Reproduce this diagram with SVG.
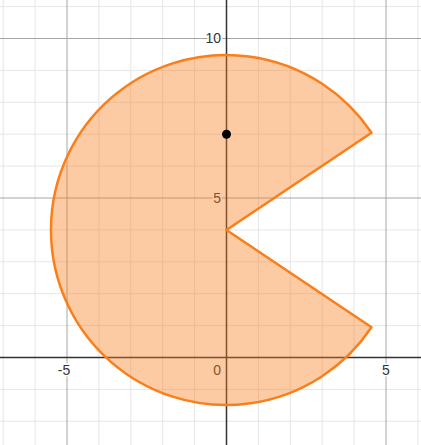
<svg xmlns="http://www.w3.org/2000/svg" width="421" height="445" viewBox="0 0 421 445">
<style>
.minor{stroke:#e6e6e6;stroke-width:1}
.major{stroke:#a6a6a6;stroke-width:1}
.axis{stroke:#333;stroke-width:1.5}
.lbl{font-family:"Liberation Sans",Arial,sans-serif;font-size:14px;fill:#333;stroke:#fff;stroke-width:3;paint-order:stroke;stroke-linejoin:round}
.shape{fill:#fa7e19;fill-opacity:0.4;stroke:#fa7e19;stroke-width:2.5;stroke-linejoin:round}
</style>
<rect width="421" height="445" fill="#fff"/>
<g id="grid-minor" class="minor">
<line x1="3.2" y1="0" x2="3.2" y2="445"/>
<line x1="35.1" y1="0" x2="35.1" y2="445"/>
<line x1="98.9" y1="0" x2="98.9" y2="445"/>
<line x1="130.8" y1="0" x2="130.8" y2="445"/>
<line x1="162.7" y1="0" x2="162.7" y2="445"/>
<line x1="194.6" y1="0" x2="194.6" y2="445"/>
<line x1="258.4" y1="0" x2="258.4" y2="445"/>
<line x1="290.3" y1="0" x2="290.3" y2="445"/>
<line x1="322.2" y1="0" x2="322.2" y2="445"/>
<line x1="354.1" y1="0" x2="354.1" y2="445"/>
<line x1="417.9" y1="0" x2="417.9" y2="445"/>
<line x1="0" y1="6.6" x2="421" y2="6.6"/>
<line x1="0" y1="70.4" x2="421" y2="70.4"/>
<line x1="0" y1="102.3" x2="421" y2="102.3"/>
<line x1="0" y1="134.2" x2="421" y2="134.2"/>
<line x1="0" y1="166.1" x2="421" y2="166.1"/>
<line x1="0" y1="229.9" x2="421" y2="229.9"/>
<line x1="0" y1="261.8" x2="421" y2="261.8"/>
<line x1="0" y1="293.7" x2="421" y2="293.7"/>
<line x1="0" y1="325.6" x2="421" y2="325.6"/>
<line x1="0" y1="389.4" x2="421" y2="389.4"/>
<line x1="0" y1="421.3" x2="421" y2="421.3"/>
</g>
<g id="grid-major" class="major">
<line x1="67" y1="0" x2="67" y2="445"/>
<line x1="386" y1="0" x2="386" y2="445"/>
<line x1="0" y1="38.5" x2="421" y2="38.5"/>
<line x1="0" y1="198" x2="421" y2="198"/>
</g>
<g id="axes" class="axis">
<line x1="226.5" y1="0" x2="226.5" y2="445"/>
<line x1="0" y1="357.5" x2="421" y2="357.5"/>
</g>
<g id="labels" class="lbl">
<text x="221" y="43" text-anchor="end">10</text>
<text x="221" y="203" text-anchor="end">5</text>
<text x="64" y="375" text-anchor="middle">-5</text>
<text x="221" y="375" text-anchor="end">0</text>
<text x="386" y="375" text-anchor="middle">5</text>
</g>
<g id="pacman">
<path class="shape" d="M226.5,230 L371.5,132.8 A175,175 0 1 0 371.5,327.2 Z"/>
<circle cx="226.5" cy="134.2" r="4.5" fill="#000"/>
</g>
</svg>
